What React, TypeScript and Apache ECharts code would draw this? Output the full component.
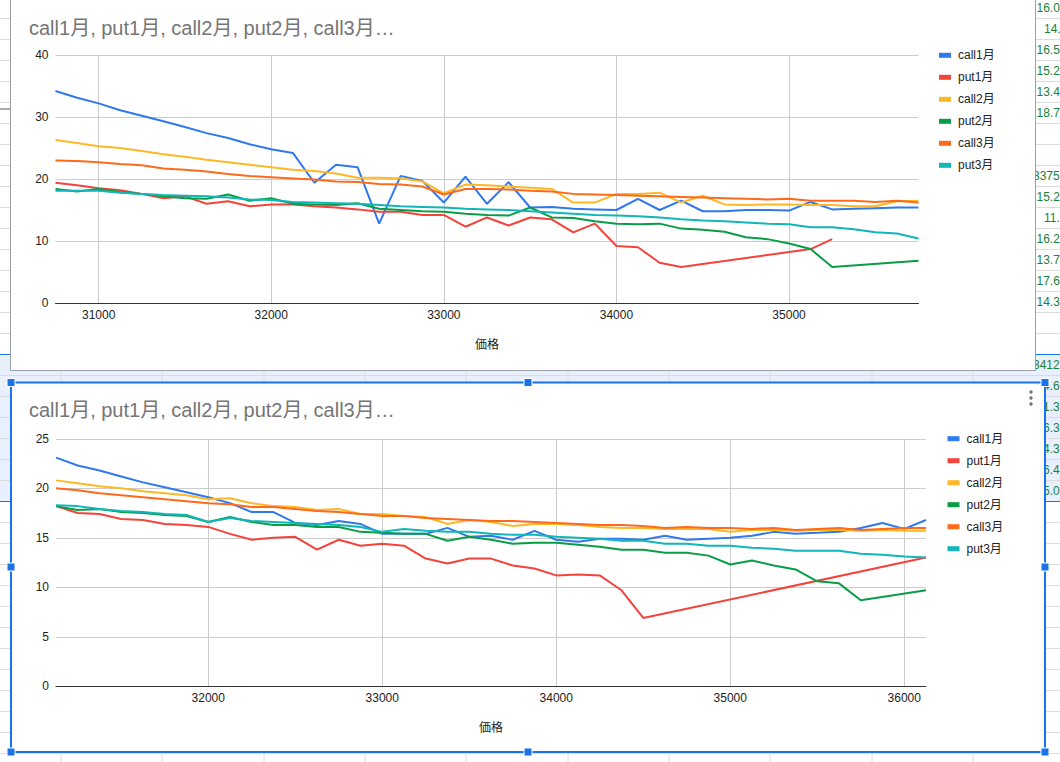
import React, { useEffect, useRef } from "react";
import * as echarts from "echarts";

// ---------- data ----------
const seriesNames = ["call1月", "put1月", "call2月", "put2月", "call3月", "put3月"];
const seriesColors = ["#2f78ed", "#f4433b", "#fdb827", "#0a9d47", "#ff6a1a", "#12b5b8"];
const chartTitle = "call1月, put1月, call2月, put2月, call3月…";
const xAxisName = "価格";

const yTicks1 = { min: 0, max: 40, interval: 10 };
const yTicks2 = { min: 0, max: 25, interval: 5 };

const prices1 = [
  30750, 30875, 31000, 31125, 31250, 31375, 31500, 31625, 31750, 31875, 32000, 32125, 32250, 32375,
  32500, 32625, 32750, 32875, 33000, 33125, 33250, 33375, 33500, 33625, 33750, 33875, 34000, 34125,
  34250, 34375, 34500, 34625, 34750, 34875, 35000, 35125, 35250, 35375, 35500, 35625, 35750,
];
const call1A = [
  34.2, 33.1, 32.2, 31.1, 30.2, 29.3, 28.4, 27.4, 26.6, 25.6, 24.8, 24.2, 19.4, 22.3, 21.9, 12.8, 20.5,
  19.7, 16.2, 20.4, 16.0, 19.5, 15.4, 15.5, 15.2, 15.1, 15.0, 16.8, 15.0, 16.5, 14.8, 14.8, 15.0, 15.0,
  14.9, 16.3, 15.1, 15.2, 15.3, 15.4, 15.4,
];
const put1A = [
  19.4, 19.0, 18.5, 18.2, 17.6, 16.9, 17.2, 16.0, 16.4, 15.6, 15.9, 15.9, 15.6, 15.4, 15.1, 14.7, 14.7,
  14.2, 14.2, 12.3, 13.8, 12.5, 13.8, 13.5, 11.4, 12.8, 9.2, 9.0, 6.5, 5.8, null, null, null, null,
  null, 8.7, 10.3, null, null, null, null,
];
const call2A = [
  26.3, 25.8, 25.3, 25.0, 24.5, 24.0, 23.6, 23.1, 22.7, 22.3, 21.9, 21.5, 21.3, 20.9, 20.2, 20.2, 20.1,
  19.6, 17.7, 19.1, 19.0, 18.8, 18.6, 18.4, 16.2, 16.2, 17.6, 17.6, 17.8, 16.2, 17.3, 15.9, 15.8, 15.9,
  15.9, 15.8, 15.8, 15.6, 15.6, 16.4, 16.5,
];
const put2A = [
  18.4, 18.0, 18.4, 17.9, 17.6, 17.2, 16.9, 16.8, 17.5, 16.5, 16.9, 16.0, 15.9, 15.8, 16.1, 15.2, 15.0,
  14.8, 14.7, 14.4, 14.2, 14.1, 15.4, 13.8, 13.7, 13.2, 12.8, 12.7, 12.8, 12.0, 11.8, 11.5, 10.6, 10.3,
  9.6, 8.7, 5.8, null, null, null, 6.8,
];
const call3A = [
  23.0, 22.9, 22.7, 22.4, 22.2, 21.7, 21.5, 21.2, 20.8, 20.5, 20.3, 20.1, 19.9, 19.6, 19.5, 19.2, 19.1,
  18.8, 17.5, 18.4, 18.4, 18.3, 18.1, 18.0, 17.6, 17.5, 17.4, 17.3, 17.2, 17.1, 17.0, 16.9, 16.8, 16.7,
  16.8, 16.5, 16.5, 16.5, 16.3, 16.5, 16.2,
];
const put3A = [
  18.1, 18.1, 18.1, 17.8, 17.6, 17.4, 17.3, 17.2, 17.0, 16.7, 16.6, 16.3, 16.2, 16.1, 16.0, 15.8, 15.6,
  15.5, 15.4, 15.2, 15.1, 15.0, 14.8, 14.6, 14.4, 14.2, 14.1, 14.0, 13.8, 13.5, 13.3, 13.2, 13.0, 12.8,
  12.7, 12.2, 12.2, 11.9, 11.4, 11.2, 10.4,
];

const prices2 = [
  31125, 31250, 31375, 31500, 31625, 31750, 31875, 32000, 32125, 32250, 32375, 32500, 32625, 32750,
  32875, 33000, 33125, 33250, 33375, 33500, 33625, 33750, 33875, 34000, 34125, 34250, 34375, 34500,
  34625, 34750, 34875, 35000, 35125, 35250, 35375, 35500, 35625, 35750, 35875, 36000, 36125,
];
const call1B = [
  23.1, 22.3, 21.8, 21.2, 20.6, 20.1, 19.6, 19.1, 18.5, 17.6, 17.6, 16.5, 16.3, 16.7, 16.4, 15.4, 15.4,
  15.4, 16.0, 15.1, 15.2, 14.8, 15.7, 14.8, 14.6, 14.9, 14.9, 14.8, 15.2, 14.8, 14.9, 15.0, 15.2, 15.6,
  15.4, 15.5, 15.6, 16.0, 16.5, 15.9, 16.8,
];
const put1B = [
  18.2, 17.5, 17.4, 16.9, 16.8, 16.4, 16.3, 16.1, 15.4, 14.8, 15.0, 15.1, 13.8, 14.8, 14.2, 14.4, 14.2,
  12.9, 12.4, 12.9, 12.9, 12.2, 11.9, 11.2, 11.3, 11.2, 9.7, 6.9, null, null, null, null, null, null,
  null, null, null, null, null, null, 13.0,
];
const call2B = [
  20.8, 20.5, 20.2, 20.0, 19.7, 19.5, 19.3, 18.9, 19.0, 18.5, 18.2, 18.1, 17.8, 17.9, 17.4, 17.4, 17.2,
  17.1, 16.4, 16.8, 16.6, 16.2, 16.4, 16.4, 16.3, 16.1, 16.0, 16.0, 15.9, 15.9, 15.9, 15.6, 15.8, 15.8,
  15.7, 15.8, 15.8, 15.7, 15.8, 15.7, 15.7,
];
const put2B = [
  18.2, 17.8, 17.9, 17.6, 17.5, 17.3, 17.2, 16.6, 17.1, 16.6, 16.3, 16.3, 16.1, 16.1, 15.6, 15.5, 15.4,
  15.4, 14.7, 15.1, 14.8, 14.4, 14.5, 14.5, 14.3, 14.1, 13.8, 13.8, 13.5, 13.5, 13.2, 12.3, 12.7, 12.2,
  11.8, 10.6, 10.4, 8.7, null, null, 9.7,
];
const call3B = [
  20.0, 19.8, 19.5, 19.3, 19.1, 18.9, 18.7, 18.5, 18.4, 18.1, 18.1, 17.9, 17.7, 17.6, 17.4, 17.2, 17.2,
  17.0, 16.9, 16.8, 16.7, 16.7, 16.6, 16.5, 16.4, 16.3, 16.3, 16.2, 16.0, 16.1, 16.0, 16.0, 15.9, 16.0,
  15.8, 15.9, 16.0, 15.8, 15.9, 16.0, 16.0,
];
const put3B = [
  18.3, 18.2, 17.9, 17.7, 17.6, 17.4, 17.3, 16.6, 17.0, 16.7, 16.6, 16.5, 16.4, 16.3, 16.1, 15.6, 15.9,
  15.7, 15.6, 15.6, 15.4, 15.3, 15.3, 15.1, 15.0, 14.9, 14.7, 14.7, 14.4, 14.4, 14.2, 14.2, 14.0, 13.9,
  13.7, 13.7, 13.7, 13.4, 13.3, 13.1, 13.0,
];

// spreadsheet cell texts peeking out at the right edge (row index, text, left x)
const sheetCells: [number, string, number][] = [
  [0, "16.0", 1036.5], [1, "14.", 1044], [2, "16.5", 1036.5], [3, "15.2", 1036.5], [4, "13.4", 1036.5],
  [5, "18.7", 1036.5], [8, "3375", 1033], [9, "15.2", 1036.5], [10, "11.", 1044], [11, "16.2", 1036.5],
  [12, "13.7", 1036.5], [13, "17.6", 1036.5], [14, "14.3", 1036.5], [17, "3412", 1033], [18, "4.6", 1043],
  [19, "1.3", 1043], [20, "6.3", 1043], [21, "4.3", 1043], [22, "6.4", 1043], [23, "5.0", 1043],
];

const FONT = "'Liberation Sans', Arial, 'Noto Sans CJK JP', sans-serif";

function pairs(xs: number[], ys: (number | null)[]) {
  return xs.map((x, i) => [x, ys[i]]);
}

function buildOption() {
  const setA = [call1A, put1A, call2A, put2A, call3A, put3A];
  const setB = [call1B, put1B, call2B, put2B, call3B, put3B];

  const series: any[] = [];
  const mk = (gi: number, xs: number[], sets: (number | null)[][]) =>
    sets.forEach((ys, i) =>
      series.push({
        type: "line",
        name: seriesNames[i],
        xAxisIndex: gi,
        yAxisIndex: gi,
        data: pairs(xs, ys),
        showSymbol: false,
        symbol: "none",
        connectNulls: true,
        silent: true,
        itemStyle: { color: seriesColors[i] },
        lineStyle: { color: seriesColors[i], width: 2 },
        emphasis: { disabled: true },
      })
    );
  mk(0, prices1, setA);
  mk(1, prices2, setB);

  const xAxisBase = (gi: number, min: number, max: number) => ({
    gridIndex: gi,
    type: "value",
    min,
    max,
    minInterval: 1000,
    maxInterval: 1000,
    name: xAxisName,
    nameLocation: "middle",
    nameGap: 36,
    nameTextStyle: { color: "#222", fontSize: 12, fontFamily: FONT },
    axisLine: { show: true, onZero: false, lineStyle: { color: "#333", width: 1 } },
    axisTick: { show: false },
    axisLabel: {
      color: "#222",
      fontSize: 12,
      fontFamily: FONT,
      margin: 6,
      showMinLabel: false,
      showMaxLabel: false,
      formatter: (v: number) => String(v),
    },
    splitLine: {
      show: true,
      showMinLine: false,
      showMaxLine: false,
      lineStyle: { color: "#cccccc", width: 1 },
    },
  });
  const yAxisBase = (gi: number, t: { min: number; max: number; interval: number }) => ({
    gridIndex: gi,
    type: "value",
    min: t.min,
    max: t.max,
    interval: t.interval,
    axisLine: { show: false },
    axisTick: { show: false },
    axisLabel: { color: "#222", fontSize: 12, fontFamily: FONT, margin: 7 },
    splitLine: { show: true, lineStyle: { color: "#cccccc", width: 1 } },
  });
  const legendBase = (left: number, top: number) => ({
    orient: "vertical",
    left,
    top,
    padding: 0,
    itemWidth: 12,
    itemHeight: 5,
    itemGap: 8,
    icon: "rect",
    selectedMode: false,
    data: seriesNames,
    textStyle: { color: "#222", fontSize: 12, fontFamily: FONT, lineHeight: 14, padding: [0, 0, 0, 2] },
  });

  // ---- spreadsheet background decoration ----
  const g: any[] = [];
  const rowLines = Array.from({ length: 36 }, (_, k) => 18.5 + 21 * k);
  const colLines = [61, 162, 264, 365, 466, 568, 669, 770, 872, 973];
  g.push({ type: "rect", z: -40, silent: true, shape: { x: 0, y: 354.5, width: 1060, height: 147 }, style: { fill: "#e8f0fe" } });
  rowLines.forEach((y) =>
    g.push({ type: "line", z: -35, silent: true, shape: { x1: 0, y1: y, x2: 1060, y2: y }, style: { stroke: "#dadce0", lineWidth: 1 } })
  );
  colLines.forEach((x) =>
    g.push({ type: "line", z: -35, silent: true, shape: { x1: x, y1: 0, x2: x, y2: 762 }, style: { stroke: "#dadce0", lineWidth: 1 } })
  );
  [354.5, 501.5].forEach((y) =>
    g.push({ type: "line", z: -34, silent: true, shape: { x1: 0, y1: y, x2: 1060, y2: y }, style: { stroke: "#1a73e8", lineWidth: 1 } })
  );
  g.push({ type: "line", z: -34, silent: true, shape: { x1: 0, y1: 109, x2: 11, y2: 109 }, style: { stroke: "#555", lineWidth: 1 } });
  sheetCells.forEach(([row, text, x]) =>
    g.push({
      type: "text",
      z: -30,
      silent: true,
      x,
      y: 8 + 21 * row,
      style: { text, fill: "#188038", fontSize: 12, fontFamily: FONT, verticalAlign: "middle", align: "left" },
    })
  );
  // chart cards
  g.push({ type: "rect", z: -10, silent: true, shape: { x: 10.5, y: -2, width: 1025, height: 372.5 }, style: { fill: "#fff", stroke: "#9aa0a6", lineWidth: 1 } });
  g.push({ type: "rect", z: -10, silent: true, shape: { x: 11, y: 382.5, width: 1034, height: 369.5 }, style: { fill: "#fff", stroke: "#1a73e8", lineWidth: 2 } });
  // selection handles
  [
    [11, 382.5], [528, 382.5], [1045, 382.5], [11, 567], [1045, 567], [11, 752], [528, 752], [1045, 752],
  ].forEach(([cx, cy]) =>
    g.push({ type: "rect", z: 100, silent: true, shape: { x: cx - 4, y: cy - 4, width: 8, height: 8 }, style: { fill: "#1a73e8", stroke: "#fff", lineWidth: 1 } })
  );
  // three-dot menu
  [392, 398, 404].forEach((cy) =>
    g.push({ type: "circle", z: 100, silent: true, shape: { cx: 1031, cy, r: 1.7 }, style: { fill: "#757575" } })
  );

  const titleStyle = { color: "#757575", fontSize: 20, fontWeight: "normal", fontFamily: FONT, lineHeight: 22 };

  return {
    animation: false,
    backgroundColor: "#ffffff",
    textStyle: { fontFamily: FONT },
    title: [
      { text: chartTitle, left: 29, top: 17, padding: 0, textStyle: titleStyle },
      { text: chartTitle, left: 29, top: 399, padding: 0, textStyle: titleStyle },
    ],
    legend: [legendBase(939, 48.3), legendBase(947.5, 431.7)],
    grid: [
      { left: 55.5, top: 55, width: 863, height: 248 },
      { left: 56, top: 438.8, width: 870, height: 247.5 },
    ],
    xAxis: [xAxisBase(0, prices1[0], prices1[prices1.length - 1]), xAxisBase(1, prices2[0], prices2[prices2.length - 1])],
    yAxis: [yAxisBase(0, yTicks1), yAxisBase(1, yTicks2)],
    graphic: { elements: g },
    series,
  };
}

export default function App() {
  const ref = useRef<HTMLDivElement>(null);
  useEffect(() => {
    document.body.style.margin = "0";
    if (!ref.current) return;
    const chart = echarts.init(ref.current, undefined, { renderer: "svg" });
    chart.setOption(buildOption() as any);
    return () => chart.dispose();
  }, []);
  return <div ref={ref} style={{ width: 1060, height: 762 }} />;
}
